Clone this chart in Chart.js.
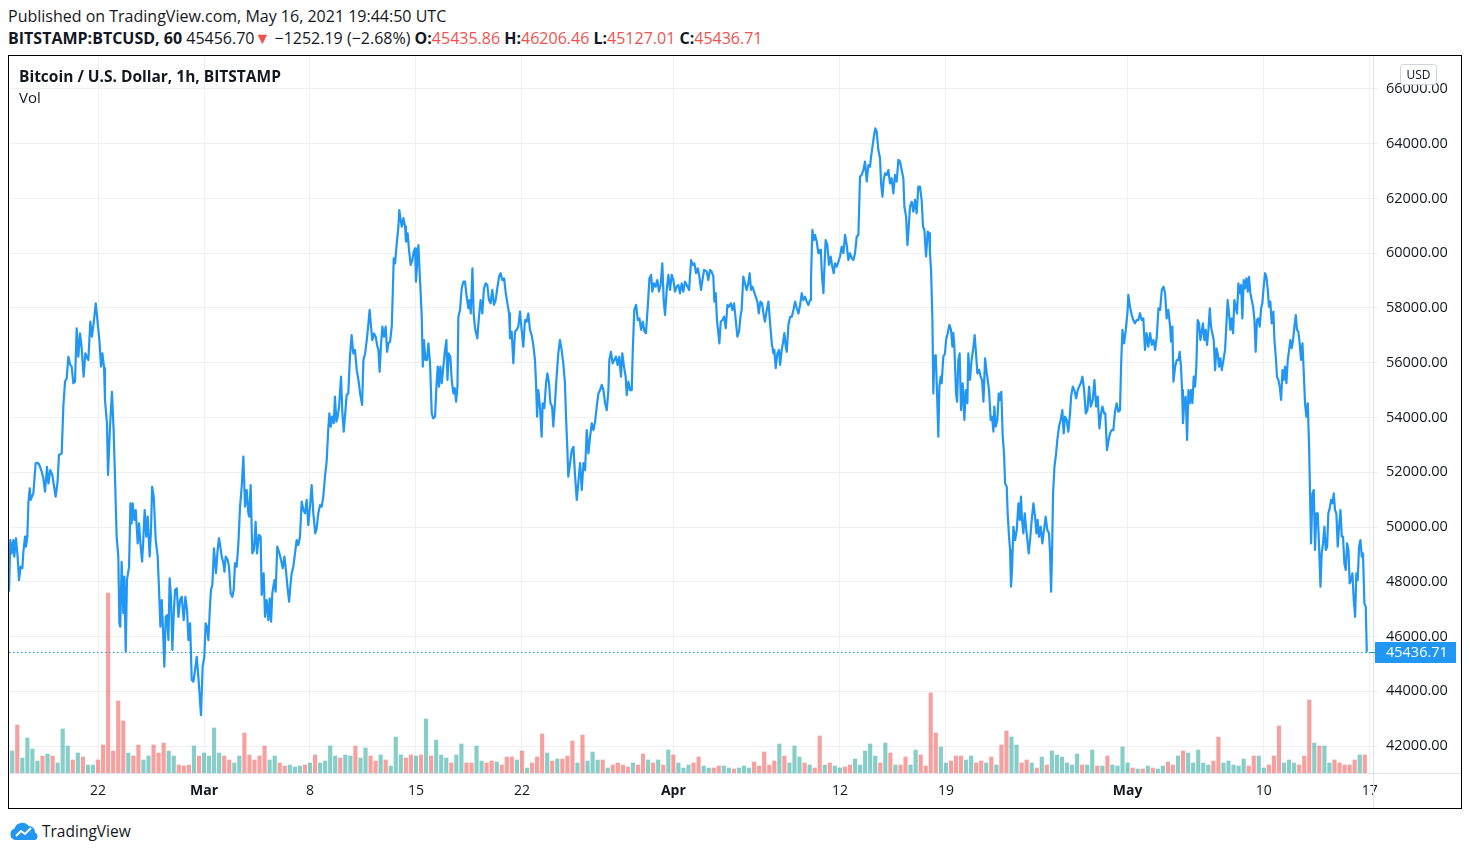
<!DOCTYPE html>
<html>
<head>
<meta charset="utf-8">
<title>BTCUSD 1h</title>
<script src="https://cdn.jsdelivr.net/npm/chart.js@4.4.1/dist/chart.umd.min.js"></script>
<style>
  html, body { margin: 0; padding: 0; background: #fff; }
  body { width: 1470px; height: 855px; position: relative; overflow: hidden;
         font-family: "Open Sans", "Noto Sans", sans-serif; color: #131722; }
  .hdr { position: absolute; left: 8px; white-space: nowrap; font-size: 16px; line-height: 20px; }
  #line1 { top: 6px; }
  #line2 { top: 28px; }
  .b { font-weight: 700; }
  .rd { color: #ef5350; }
  #box { position: absolute; left: 8px; top: 55px; width: 1452px; height: 752px; border: 1px solid #000; }
  #box canvas { position: absolute; left: 0; top: 0; }
  #title { position: absolute; left: 10px; top: 9px; font-size: 15.5px; font-weight: 700; white-space: nowrap; }
  #vol { position: absolute; left: 10px; top: 31px; font-size: 15px; }
  #logo { position: absolute; left: 8px; top: 821px; }
  #brand { position: absolute; left: 42px; top: 821px; font-size: 15.5px; line-height: 20px; color: #131722; }
</style>
</head>
<body>
<div class="hdr" id="line1">Published on TradingView.com, May 16, 2021 19:44:50 UTC</div>
<div class="hdr" id="line2"><span class="b">BITSTAMP:BTCUSD, 60</span> 45456.70<span class="rd">▼</span> −1252.19 (−2.68%) <span class="b">O:</span><span class="rd">45435.86</span> <span class="b">H:</span><span class="rd">46206.46</span> <span class="b">L:</span><span class="rd">45127.01</span> <span class="b">C:</span><span class="rd">45436.71</span></div>

<div id="box">
  <canvas id="btcChart" width="1452" height="752"></canvas>
  <div id="title">Bitcoin / U.S. Dollar, 1h, BITSTAMP</div>
  <div id="vol">Vol</div>
</div>

<svg id="logo" width="32" height="20" viewBox="0 0 32 20">
  <path d="M7 19 A6 6 0 0 1 6.5 7.5 A8 8 0 0 1 20.5 5 A6 6 0 0 1 27 11.5 A4 4 0 0 1 27 19 Z" fill="#2196f3"/>
  <polyline points="8,15 13,10 17,13 23,7" fill="none" stroke="#fff" stroke-width="2"/>
</svg>
<div id="brand">TradingView</div>

<script>
// x values are days since 1 Mar 2021 00:00 UTC
const tickDays = [-7, 0, 7, 14, 21, 31, 42, 49, 61, 70, 77];
const tickLabels = ['22', 'Mar', '8', '15', '22', 'Apr', '12', '19', 'May', '10', '17'];
const monthLabels = ['Mar', 'Apr', 'May'];
const priceTicks = [42000, 44000, 46000, 48000, 50000, 52000, 54000, 56000, 58000, 60000, 62000, 64000, 66000];

// close prices
const priceDays = [
  -12.88, -12.79, -12.70, -12.59, -12.53, -12.42, -12.31, -12.22, -12.11, -12.00,
  -11.93, -11.82, -11.76, -11.67, -11.60, -11.51, -11.45, -11.27, -11.12, -10.94,
  -10.83, -10.72, -10.61, -10.50, -10.37, -10.28, -10.15, -10.02, -9.80, -9.67,
  -9.58, -9.40, -9.29, -9.18, -9.07, -8.96, -8.83, -8.74, -8.63, -8.52,
  -8.41, -8.30, -8.19, -8.08, -7.95, -7.84, -7.75, -7.64, -7.51, -7.40,
  -7.29, -7.15, -7.02, -6.91, -6.80, -6.71, -6.60, -6.54, -6.41, -6.34,
  -6.21, -6.08, -5.97, -5.88, -5.77, -5.66, -5.59, -5.53, -5.44, -5.33,
  -5.26, -5.17, -5.09, -4.95, -4.86, -4.78, -4.71, -4.60, -4.51, -4.38,
  -4.29, -4.20, -4.09, -4.01, -3.92, -3.81, -3.72, -3.59, -3.50, -3.43,
  -3.32, -3.19, -3.06, -2.97, -2.88, -2.79, -2.71, -2.62, -2.53, -2.44,
  -2.35, -2.27, -2.18, -2.09, -2.00, -1.91, -1.80, -1.69, -1.58, -1.47,
  -1.34, -1.23, -1.12, -1.03, -0.92, -0.81, -0.70, -0.59, -0.48, -0.39,
  -0.31, -0.20, -0.09, 0.02, 0.11, 0.20, 0.29, 0.38, 0.46, 0.55,
  0.66, 0.79, 0.90, 0.99, 1.08, 1.17, 1.28, 1.35, 1.43, 1.57,
  1.65, 1.76, 1.87, 1.96, 2.05, 2.16, 2.27, 2.38, 2.49, 2.60,
  2.71, 2.82, 2.93, 2.99, 3.08, 3.19, 3.30, 3.41, 3.50, 3.63,
  3.74, 3.81, 3.94, 4.03, 4.14, 4.25, 4.34, 4.43, 4.51, 4.65,
  4.73, 4.84, 4.98, 5.09, 5.20, 5.31, 5.42, 5.51, 5.62, 5.70,
  5.79, 5.90, 6.01, 6.12, 6.23, 6.34, 6.45, 6.56, 6.67, 6.78,
  6.89, 7.00, 7.11, 7.22, 7.35, 7.44, 7.55, 7.66, 7.77, 7.88,
  7.99, 8.10, 8.21, 8.28, 8.37, 8.46, 8.57, 8.65, 8.74, 8.83,
  8.92, 9.05, 9.14, 9.23, 9.31, 9.42, 9.53, 9.64, 9.75, 9.86,
  9.97, 10.09, 10.20, 10.31, 10.44, 10.53, 10.64, 10.75, 10.86, 10.94,
  11.03, 11.12, 11.23, 11.34, 11.45, 11.52, 11.60, 11.69, 11.78, 11.89,
  12.00, 12.09, 12.18, 12.29, 12.40, 12.46, 12.53, 12.62, 12.73, 12.84,
  12.90, 12.99, 13.06, 13.17, 13.28, 13.34, 13.45, 13.54, 13.65, 13.76,
  13.85, 13.94, 14.00, 14.09, 14.16, 14.22, 14.29, 14.38, 14.45, 14.53,
  14.62, 14.73, 14.82, 14.93, 15.04, 15.13, 15.26, 15.35, 15.44, 15.52,
  15.61, 15.70, 15.81, 15.92, 16.01, 16.08, 16.16, 16.27, 16.36, 16.47,
  16.56, 16.65, 16.74, 16.80, 16.91, 17.02, 17.13, 17.24, 17.35, 17.46,
  17.53, 17.62, 17.73, 17.81, 17.90, 18.05, 18.16, 18.27, 18.38, 18.49,
  18.60, 18.71, 18.82, 18.93, 19.04, 19.15, 19.26, 19.37, 19.49, 19.59,
  19.70, 19.82, 19.93, 20.04, 20.15, 20.21, 20.32, 20.43, 20.54, 20.65,
  20.76, 20.87, 20.98, 21.09, 21.20, 21.31, 21.42, 21.53, 21.64, 21.75,
  21.86, 21.93, 22.00, 22.08, 22.19, 22.30, 22.37, 22.48, 22.59, 22.68,
  22.79, 22.88, 22.99, 23.07, 23.18, 23.29, 23.40, 23.51, 23.62, 23.73,
  23.84, 23.91, 24.00, 24.06, 24.18, 24.29, 24.40, 24.51, 24.62, 24.72,
  24.84, 24.95, 25.06, 25.17, 25.28, 25.39, 25.50, 25.61, 25.72, 25.83,
  25.94, 26.05, 26.16, 26.27, 26.38, 26.49, 26.60, 26.71, 26.77, 26.88,
  26.99, 27.10, 27.21, 27.32, 27.43, 27.54, 27.63, 27.74, 27.85, 27.92,
  28.03, 28.14, 28.25, 28.32, 28.42, 28.54, 28.65, 28.76, 28.87, 28.98,
  29.09, 29.19, 29.31, 29.42, 29.53, 29.61, 29.72, 29.83, 29.94, 30.05,
  30.16, 30.27, 30.36, 30.45, 30.56, 30.67, 30.78, 30.89, 31.00, 31.11,
  31.22, 31.33, 31.44, 31.55, 31.66, 31.77, 31.88, 32.04, 32.17, 32.28,
  32.39, 32.50, 32.61, 32.72, 32.83, 32.92, 33.03, 33.20, 33.31, 33.42,
  33.53, 33.64, 33.71, 33.80, 33.88, 33.97, 34.04, 34.13, 34.24, 34.35,
  34.46, 34.57, 34.68, 34.79, 34.90, 35.01, 35.12, 35.23, 35.34, 35.43,
  35.51, 35.62, 35.73, 35.84, 35.95, 36.04, 36.13, 36.22, 36.33, 36.44,
  36.55, 36.64, 36.75, 36.86, 36.95, 37.05, 37.17, 37.28, 37.39, 37.50,
  37.61, 37.67, 37.76, 37.87, 37.98, 38.05, 38.16, 38.27, 38.33, 38.42,
  38.49, 38.60, 38.71, 38.82, 38.93, 39.04, 39.15, 39.26, 39.37, 39.48,
  39.59, 39.70, 39.81, 39.92, 40.03, 40.09, 40.18, 40.27, 40.36, 40.47,
  40.58, 40.69, 40.75, 40.82, 40.91, 40.98, 41.06, 41.17, 41.28, 41.39,
  41.50, 41.59, 41.68, 41.79, 41.90, 42.01, 42.12, 42.23, 42.34, 42.45,
  42.56, 42.67, 42.78, 42.89, 43.00, 43.11, 43.22, 43.33, 43.44, 43.55,
  43.66, 43.77, 43.88, 43.99, 44.06, 44.17, 44.26, 44.34, 44.43, 44.54,
  44.65, 44.72, 44.81, 44.89, 44.98, 45.09, 45.20, 45.31, 45.42, 45.53,
  45.64, 45.75, 45.86, 45.97, 46.08, 46.19, 46.26, 46.37, 46.46, 46.52,
  46.63, 46.74, 46.85, 46.96, 47.07, 47.18, 47.29, 47.40, 47.49, 47.58,
  47.69, 47.80, 47.89, 47.95, 48.02, 48.11, 48.17, 48.24, 48.33, 48.41,
  48.50, 48.57, 48.66, 48.72, 48.83, 48.94, 49.01, 49.12, 49.23, 49.34,
  49.43, 49.49, 49.56, 49.67, 49.74, 49.82, 49.91, 50.00, 50.11, 50.22,
  50.31, 50.42, 50.48, 50.59, 50.70, 50.81, 50.90, 50.99, 51.08, 51.19,
  51.30, 51.39, 51.48, 51.59, 51.70, 51.76, 51.85, 51.96, 52.05, 52.14,
  52.20, 52.29, 52.40, 52.49, 52.58, 52.66, 52.75, 52.84, 52.91, 53.02,
  53.08, 53.17, 53.24, 53.30, 53.37, 53.46, 53.57, 53.68, 53.79, 53.88,
  53.96, 54.03, 54.12, 54.21, 54.29, 54.38, 54.47, 54.56, 54.67, 54.78,
  54.89, 54.98, 55.06, 55.15, 55.26, 55.37, 55.48, 55.59, 55.70, 55.81,
  55.88, 55.95, 56.01, 56.08, 56.17, 56.28, 56.36, 56.47, 56.58, 56.69,
  56.78, 56.87, 56.98, 57.09, 57.20, 57.27, 57.38, 57.49, 57.60, 57.71,
  57.80, 57.91, 58.02, 58.13, 58.24, 58.35, 58.46, 58.57, 58.70, 58.81,
  58.92, 59.03, 59.14, 59.25, 59.34, 59.45, 59.53, 59.64, 59.75, 59.84,
  59.95, 60.06, 60.17, 60.28, 60.39, 60.50, 60.57, 60.66, 60.77, 60.88,
  60.99, 61.05, 61.16, 61.27, 61.38, 61.49, 61.60, 61.71, 61.82, 61.93,
  62.04, 62.15, 62.26, 62.37, 62.49, 62.60, 62.71, 62.82, 62.93, 63.04,
  63.15, 63.26, 63.37, 63.48, 63.58, 63.69, 63.81, 63.87, 63.96, 64.03,
  64.14, 64.25, 64.36, 64.44, 64.53, 64.60, 64.66, 64.75, 64.84, 64.93,
  65.02, 65.10, 65.19, 65.28, 65.37, 65.46, 65.54, 65.63, 65.72, 65.81,
  65.90, 65.98, 66.07, 66.16, 66.25, 66.34, 66.43, 66.51, 66.60, 66.69,
  66.78, 66.87, 66.95, 67.04, 67.13, 67.22, 67.33, 67.44, 67.53, 67.61,
  67.70, 67.79, 67.88, 67.97, 68.05, 68.14, 68.23, 68.32, 68.41, 68.50,
  68.58, 68.67, 68.76, 68.85, 68.94, 69.02, 69.11, 69.20, 69.29, 69.38,
  69.46, 69.55, 69.64, 69.73, 69.82, 69.90, 69.99, 70.08, 70.17, 70.26,
  70.34, 70.43, 70.52, 70.63, 70.70, 70.79, 70.87, 70.96, 71.05, 71.14,
  71.23, 71.31, 71.40, 71.49, 71.58, 71.67, 71.75, 71.84, 71.93, 72.02,
  72.11, 72.19, 72.28, 72.37, 72.46, 72.55, 72.64, 72.72, 72.81, 72.90,
  72.99, 73.05, 73.12, 73.21, 73.30, 73.38, 73.47, 73.56, 73.65, 73.74,
  73.82, 73.91, 74.00, 74.09, 74.18, 74.26, 74.35, 74.44, 74.53, 74.62,
  74.70, 74.79, 74.88, 74.97, 75.06, 75.15, 75.23, 75.32, 75.41, 75.50,
  75.59, 75.67, 75.76, 75.85, 75.94, 76.03, 76.11, 76.20, 76.29, 76.38,
  76.47, 76.55, 76.64, 76.73, 76.80, 76.82
];

const prices = [
  47640, 49520, 49040, 49520, 48920, 49590, 48920, 48060, 48550, 48490,
  49100, 49650, 49280, 49650, 50860, 51410, 50990, 51230, 52330, 52330,
  52200, 52020, 51780, 51290, 52200, 51590, 52080, 51900, 51110, 51660,
  52630, 52690, 54400, 55310, 55430, 56220, 55920, 55860, 55250, 55310,
  57260, 56220, 57070, 56530, 55490, 56340, 56220, 56100, 57500, 56950,
  57440, 58170, 57440, 56830, 55860, 56340, 55800, 54640, 53790, 51900,
  53660, 54940, 53540, 51840, 49650, 48920, 46480, 46360, 48730, 46850,
  48190, 45450, 48060, 48550, 50860, 50130, 50860, 50260, 50620, 49400,
  50130, 49400, 48730, 49520, 50620, 49650, 50380, 48920, 49890, 51470,
  51110, 49520, 48920, 47700, 46360, 47330, 46300, 44900, 46720, 46780,
  45870, 48120, 47450, 45510, 46850, 47700, 47760, 46720, 47330, 47450,
  46600, 47450, 46970, 45870, 46480, 44410, 44350, 44780, 45260, 44650,
  44040, 43130, 44900, 45260, 46480, 46360, 45870, 46970, 47700, 47880,
  49220, 48310, 49160, 49590, 49280, 48920, 48680, 48370, 48920, 48790,
  48550, 47580, 47450, 47700, 48680, 48550, 49400, 50740, 51470, 52570,
  50740, 51350, 50500, 50380, 51530, 49040, 49160, 50190, 49040, 49710,
  49650, 47520, 48310, 46720, 47330, 46600, 47390, 46540, 47580, 48060,
  47640, 49280, 49040, 48790, 48490, 48920, 48370, 47820, 47270, 47820,
  48310, 48550, 49040, 49520, 49340, 49650, 50930, 50620, 50500, 50990,
  50070, 50740, 51530, 50500, 49770, 49950, 50500, 50800, 50740, 51110,
  51840, 52390, 53600, 54150, 53670, 54030, 53790, 54760, 53850, 54030,
  54400, 55490, 54150, 53480, 54030, 54820, 54880, 56220, 57010, 56340,
  56470, 55730, 55370, 54880, 54460, 56100, 56340, 56830, 57440, 57930,
  57320, 56830, 57070, 56950, 56590, 56470, 55670, 56650, 57320, 56950,
  57320, 56400, 56710, 56770, 57320, 58410, 59810, 59630, 60360, 60970,
  61580, 61210, 60970, 61280, 60970, 60420, 60730, 60120, 59570, 59750,
  60060, 60180, 58960, 59690, 60300, 59570, 58780, 57680, 55860, 56830,
  56100, 56100, 56710, 55980, 54150, 53970, 54030, 55130, 55860, 55130,
  55860, 55250, 55860, 56470, 56830, 55370, 56340, 56220, 55370, 54880,
  55070, 54580, 55130, 57680, 57930, 58720, 58960, 58960, 58410, 57990,
  58290, 57800, 59450, 57800, 57260, 56890, 57680, 58290, 57800, 58720,
  58900, 58840, 58290, 58170, 58660, 58110, 58290, 58720, 59150, 59270,
  59020, 59080, 58540, 58170, 57800, 56890, 57140, 55980, 57140, 57200,
  57320, 57870, 57200, 56590, 57560, 57500, 57800, 57200, 57010, 56650,
  56100, 55250, 54030, 55000, 54400, 53300, 54520, 54340, 55250, 55610,
  55250, 54520, 54400, 53670, 54520, 55490, 56340, 56830, 56470, 55980,
  55250, 54030, 52810, 51840, 52330, 52810, 52930, 51840, 50990, 51600,
  52330, 51350, 52330, 52080, 53540, 52690, 53300, 53790, 53540, 53850,
  54400, 54880, 55000, 55190, 55000, 54520, 54270, 55000, 56100, 56400,
  55980, 56100, 56220, 55920, 56220, 55490, 56340, 55860, 55490, 54820,
  55310, 55000, 55000, 56470, 57930, 58110, 57560, 57620, 57200, 57500,
  57140, 57080, 58050, 59080, 59210, 58600, 58900, 58780, 59020, 58600,
  58840, 59630, 58290, 57750, 58660, 59210, 58660, 59210, 59020, 58600,
  58780, 58840, 58540, 58900, 58600, 58960, 58840, 58660, 59750, 59570,
  59630, 59270, 59450, 59150, 58660, 59020, 59390, 59330, 59020, 59390,
  59330, 59150, 58230, 58540, 57560, 57080, 56710, 57500, 57560, 57680,
  57260, 58110, 58050, 58170, 57930, 58170, 57560, 56950, 57140, 57680,
  57930, 59150, 58900, 58660, 58900, 59270, 58660, 58780, 58600, 58410,
  58230, 57800, 58230, 58170, 57800, 57500, 57930, 58230, 57440, 56710,
  56340, 56470, 55800, 56340, 56470, 55920, 56470, 56830, 57080, 56590,
  56400, 57380, 57680, 57680, 57930, 58230, 57990, 57800, 58110, 58540,
  58290, 58410, 58230, 58110, 58290, 59020, 60850, 60480, 60670, 60420,
  60000, 60120, 59940, 59150, 58540, 59510, 60480, 60300, 59570, 59880,
  59510, 59270, 59630, 59510, 59690, 59880, 60240, 60000, 60670, 60300,
  59750, 60000, 59820, 59750, 60000, 60610, 60670, 62800, 62860, 63040,
  63350, 62620, 63220, 63160, 63530, 63960, 64320, 64560, 64440, 63770,
  63470, 62550, 62070, 62680, 62920, 62860, 63040, 62550, 62740, 62190,
  62860, 62620, 63410, 63350, 63040, 62740, 61700, 61340, 60300, 60730,
  61700, 61880, 61520, 61950, 61460, 62430, 62430, 61950, 60970, 60850,
  59880, 60790, 60730, 60000, 59390, 57560, 54880, 56220, 56280, 55000,
  53300, 55130, 55490, 55250, 56220, 56340, 56830, 57080, 57380, 57200,
  56590, 57080, 56590, 54880, 54580, 56100, 56340, 54270, 55250, 53910,
  55000, 54520, 56340, 55370, 56100, 56530, 57010, 56340, 55610, 55740,
  55490, 55370, 54580, 56160, 55610, 55370, 55000, 53910, 54030, 53480,
  54400, 53670, 53910, 54880, 54640, 54940, 53360, 52690, 51600, 51470,
  50500, 49650, 49160, 47820, 48430, 50010, 49520, 49890, 50860, 50260,
  51110, 50260, 49770, 50500, 50010, 49520, 49040, 49520, 50260, 50860,
  50380, 49770, 50260, 49650, 50010, 49400, 49890, 50380, 49890, 49770,
  49040, 47640, 49040, 51230, 52200, 52690, 53180, 53670, 53910, 54270,
  53420, 54030, 53910, 53480, 54150, 54760, 55130, 55000, 54700, 55000,
  55130, 55250, 55490, 55000, 54150, 54270, 55130, 54400, 54640, 55370,
  54400, 54760, 53600, 54150, 54400, 54150, 54150, 52810, 53180, 53420,
  53540, 53540, 54210, 54520, 54210, 54270, 55860, 57200, 56710, 57200,
  57810, 58480, 58050, 57750, 57560, 57440, 57560, 57560, 57810, 57560,
  57620, 56470, 57080, 56590, 57080, 56650, 56830, 56470, 56950, 57990,
  57930, 58660, 58780, 58540, 57620, 57930, 57320, 56770, 57320, 55310,
  55860, 56100, 56100, 56400, 55860, 55000, 53790, 54640, 54760, 53180,
  55000, 54520, 55000, 54520, 55490, 55130, 55860, 57560, 57440, 56830,
  57140, 57440, 56830, 57200, 56650, 57200, 57990, 57320, 57070, 56830,
  55730, 56530, 56340, 55860, 56160, 55730, 56100, 56470, 57440, 58290,
  57800, 57200, 57620, 57070, 58290, 58050, 57800, 58900, 58540, 58840,
  57620, 59020, 58720, 59080, 58600, 59140, 58540, 58290, 58050, 57560,
  56400, 57560, 57620, 57320, 57990, 58170, 58780, 59270, 59140, 58660,
  58050, 58230, 57440, 57870, 56830, 56220, 55490, 55370, 55130, 54640,
  55730, 55370, 55860, 55250, 56100, 56470, 56830, 56530, 56830, 57320,
  57740, 57200, 57140, 56710, 56100, 56710, 55610, 54520, 54030, 54520,
  52930, 51230, 49400, 51230, 51350, 49160, 50500, 50500, 49280, 47820,
  49040, 49400, 50010, 49160, 49280, 50500, 50680, 50990, 50860, 51230,
  50620, 50500, 49280, 50010, 50620, 49650, 49650, 48670, 48430, 49400,
  49160, 47940, 48060, 48310, 47330, 46720, 48310, 48060, 49280, 49520,
  48920, 49040, 47210, 47090, 45440, 45436.71
];

// volume bars, one every 8 hours from 16 Feb 08:00 UTC (BTC)
const volumeStartHour = -304;
const volumeStepHours = 8;
const volumes = [
  880, 1920, 600, 1400, 960, 480, 680, 760, 680, 400,
  1760, 1080, 520, 800, 640, 320, 320, 520, 1120, 7200,
  880, 2880, 2080, 800, 680, 1120, 520, 680, 1120, 800,
  1200, 880, 680, 320, 280, 320, 1080, 680, 800, 680,
  1800, 800, 680, 520, 400, 680, 1600, 720, 520, 680,
  1080, 520, 680, 400, 280, 320, 240, 280, 320, 400,
  720, 400, 480, 1080, 680, 600, 720, 680, 1080, 600,
  1000, 680, 480, 720, 520, 280, 1440, 720, 600, 720,
  680, 720, 2160, 680, 1320, 720, 600, 400, 720, 1160,
  400, 400, 1080, 480, 400, 480, 440, 320, 640, 640,
  520, 880, 200, 400, 640, 1560, 800, 480, 560, 560,
  680, 1280, 400, 1520, 480, 840, 520, 520, 200, 320,
  400, 320, 240, 400, 320, 760, 520, 400, 520, 320,
  920, 720, 400, 200, 320, 400, 640, 280, 200, 200,
  280, 280, 200, 160, 200, 280, 200, 440, 280, 840,
  320, 480, 1160, 680, 400, 1080, 640, 400, 320, 200,
  1480, 320, 400, 280, 200, 240, 320, 560, 320, 880,
  1160, 680, 400, 1200, 800, 320, 320, 640, 320, 920,
  720, 280, 3200, 1600, 1040, 400, 480, 680, 680, 520,
  680, 400, 480, 400, 640, 320, 1120, 1680, 1440, 1120,
  400, 520, 400, 200, 640, 320, 880, 720, 640, 400,
  320, 760, 320, 320, 920, 280, 280, 680, 320, 280,
  1040, 400, 200, 160, 160, 280, 200, 160, 280, 440,
  320, 680, 880, 800, 400, 920, 400, 320, 480, 1440,
  400, 480, 320, 280, 560, 280, 680, 680, 200, 320,
  680, 1880, 400, 520, 400, 320, 680, 2920, 1200, 1080,
  1080, 400, 520, 400, 320, 320, 520, 720, 720
];

const FONT = '"Open Sans", "Noto Sans", sans-serif';
const textColor = '#131722';
const gridColor = '#eef0f3';
const lineColor = '#2196f3';
const upColor = 'rgba(38, 166, 154, 0.55)';
const downColor = 'rgba(239, 83, 80, 0.55)';

function priceAt(day) {
  if (day <= priceDays[0]) return prices[0];
  for (let i = 1; i < priceDays.length; i++) {
    if (priceDays[i] >= day) {
      const t = (day - priceDays[i - 1]) / (priceDays[i] - priceDays[i - 1]);
      return prices[i - 1] + t * (prices[i] - prices[i - 1]);
    }
  }
  return prices[prices.length - 1];
}

const pricePoints = priceDays.map((d, i) => ({ x: d, y: prices[i] }));
const volumePoints = volumes.map((v, i) => ({ x: (volumeStartHour + i * volumeStepHours) / 24, y: v }));
const volumeColors = volumePoints.map(p =>
  priceAt(p.x + 1 / 6) >= priceAt(p.x - 1 / 6) ? upColor : downColor);

const lastPrice = prices[prices.length - 1];

const overlayPlugin = {
  id: 'overlay',
  beforeDatasetsDraw(chart) {
    const { ctx, chartArea: a, scales: { y } } = chart;
    const py = Math.round(y.getPixelForValue(lastPrice)) + 0.5;
    ctx.save();
    ctx.strokeStyle = lineColor;
    ctx.lineWidth = 1;
    ctx.setLineDash([1.5, 2.5]);
    ctx.beginPath();
    ctx.moveTo(a.left, py);
    ctx.lineTo(a.right, py);
    ctx.stroke();
    ctx.restore();
  },
  afterDraw(chart) {
    const { ctx, chartArea: a, scales: { y } } = chart;
    const W = chart.width, H = chart.height;
    const r = Math.round(a.right) + 0.5, b = Math.round(a.bottom) + 0.5;
    ctx.save();
    // pane separators
    ctx.strokeStyle = '#e0e3eb';
    ctx.lineWidth = 1;
    ctx.beginPath();
    ctx.moveTo(r, 0); ctx.lineTo(r, H);
    ctx.moveTo(0, b); ctx.lineTo(W, b);
    ctx.stroke();

    // last price tag
    const py = Math.round(y.getPixelForValue(lastPrice));
    ctx.strokeStyle = lineColor;
    ctx.beginPath();
    ctx.moveTo(a.right - 4, py + 0.5); ctx.lineTo(a.right + 2, py + 0.5);
    ctx.stroke();
    ctx.fillStyle = lineColor;
    ctx.fillRect(a.right + 2, py - 10, 81, 21);
    ctx.fillStyle = '#fff';
    ctx.font = '14.5px ' + FONT;
    ctx.textBaseline = 'middle';
    ctx.textAlign = 'left';
    ctx.fillText(lastPrice.toFixed(2), a.right + 13, py + 1);

    // currency badge
    const bx = a.right + 27.5, by = 8.5, bw = 36, bh = 20;
    ctx.beginPath();
    ctx.roundRect(bx, by, bw, bh, 3);
    ctx.fillStyle = '#fff';
    ctx.fill();
    ctx.strokeStyle = '#d1d4dc';
    ctx.stroke();
    ctx.fillStyle = textColor;
    ctx.font = '12px ' + FONT;
    ctx.textAlign = 'center';
    ctx.fillText('USD', bx + bw / 2, by + bh / 2 + 1);
    ctx.restore();
  }
};

new Chart(document.getElementById('btcChart').getContext('2d'), {
  type: 'line',
  data: {
    datasets: [
      {
        type: 'line',
        label: 'BTCUSD',
        data: pricePoints,
        yAxisID: 'y',
        borderColor: lineColor,
        borderWidth: 2.2,
        pointRadius: 0,
        tension: 0,
        borderJoinStyle: 'round',
        order: 0
      },
      {
        type: 'bar',
        label: 'Vol',
        data: volumePoints,
        yAxisID: 'yVol',
        backgroundColor: volumeColors,
        barThickness: 3.5,
        order: 1
      }
    ]
  },
  options: {
    responsive: false,
    animation: false,
    events: [],
    layout: { padding: 0 },
    plugins: {
      legend: { display: false },
      tooltip: { enabled: false }
    },
    scales: {
      x: {
        type: 'linear',
        offset: false,
        min: -12.88,
        max: 77.21,
        afterBuildTicks: scale => { scale.ticks = tickDays.map(v => ({ value: v })); },
        afterFit: scale => { scale.height = 35; scale.paddingLeft = 0; scale.paddingRight = 0; },
        border: { display: false },
        grid: { color: gridColor, drawTicks: false, offset: false },
        ticks: {
          autoSkip: false,
          maxRotation: 0,
          padding: 10,
          color: textColor,
          font: ctx => ({
            family: FONT,
            size: 14,
            weight: monthLabels.includes(tickLabels[ctx.index]) ? '700' : '400'
          }),
          callback: (value, index) => tickLabels[index]
        }
      },
      y: {
        position: 'right',
        min: 41014,
        max: 67205,
        afterBuildTicks: scale => { scale.ticks = priceTicks.map(v => ({ value: v })); },
        afterFit: scale => { scale.width = 88; scale.paddingTop = 0; scale.paddingBottom = 0; },
        border: { display: false },
        grid: { color: gridColor, tickLength: 5 },
        ticks: {
          padding: 8,
          color: textColor,
          font: { family: FONT, size: 14.5 },
          callback: v => v.toFixed(2)
        }
      },
      yVol: {
        display: false,
        min: 0,
        max: 28680
      }
    }
  },
  plugins: [overlayPlugin]
});
</script>
</body>
</html>
